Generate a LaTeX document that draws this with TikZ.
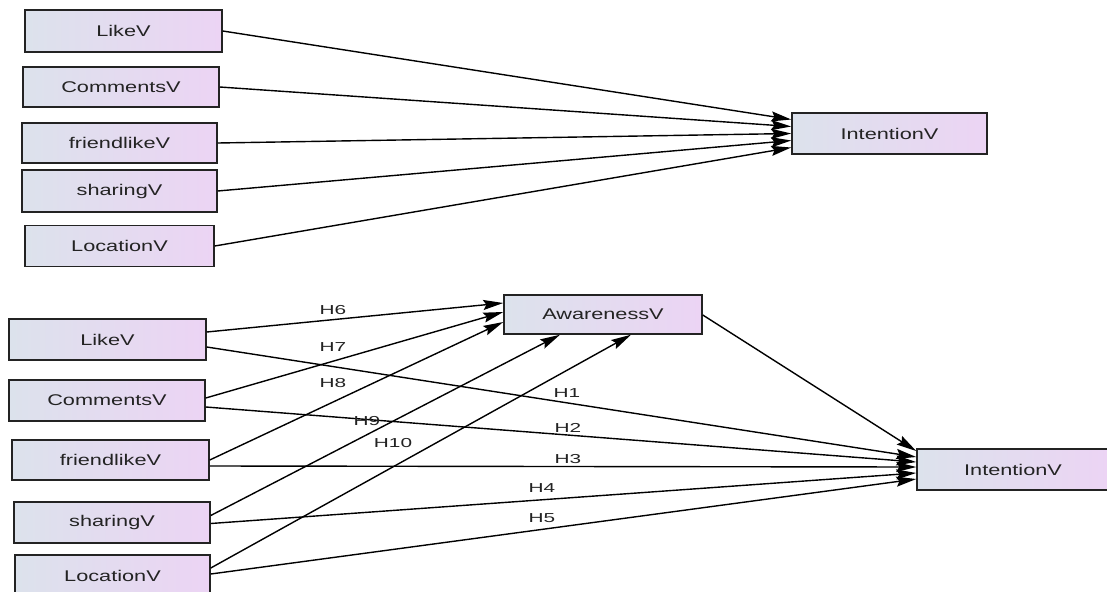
\documentclass[tikz,border=0pt]{standalone}
\usepackage{fontspec}
\setmainfont{Liberation Sans}
\newfontfamily\boxfont[FakeStretch=1.4]{Liberation Sans}
\newfontfamily\hypfont[FakeStretch=1.6]{Liberation Sans}
\usetikzlibrary{arrows.meta}
\definecolor{boxleft}{RGB}{220,226,236}
\definecolor{boxright}{RGB}{236,212,244}
\definecolor{inkgray}{RGB}{35,35,35}
\begin{document}
\begin{tikzpicture}[x=1pt,y=-1pt,
  var/.style={draw=inkgray, line width=1.5pt, left color=boxleft, right color=boxright,
    minimum height=41pt, inner sep=0pt, text=inkgray,
    font=\boxfont\fontsize{15.5}{17}\selectfont},
  link/.style={line width=1.4pt, draw=black,
    -{Stealth[length=20pt,width=10pt,inset=3pt]}},
  hyp/.style={font=\hypfont\fontsize{13}{14}\selectfont, text=inkgray, inner sep=1pt}]
\useasboundingbox[fill=white] (0,0) rectangle (1107,591);

% ---------- direct-effect model ----------
\node[var, minimum width=197pt, minimum height=42pt] (tLike)   at (123.5,31)  {LikeV};
\node[var, minimum width=196pt, minimum height=40pt] (tComm)   at (121,87)    {CommentsV};
\node[var, minimum width=195pt, minimum height=40pt] (tFriend) at (119.5,143) {friendlikeV};
\node[var, minimum width=195pt, minimum height=42pt] (tShare)  at (119.5,191) {sharingV};
\node[var, minimum width=189pt]                      (tLoc)    at (119.5,246) {LocationV};
\node[var, minimum width=195pt]                      (tInt)    at (889.5,133.5) {IntentionV};

\draw[link] (tLike.east)   -- ([yshift=14pt]tInt.west);
\draw[link] (tComm.east)   -- ([yshift=7pt]tInt.west);
\draw[link] (tFriend.east) -- ([yshift=0pt]tInt.west);
\draw[link] (tShare.east)  -- ([yshift=-7pt]tInt.west);
\draw[link] (tLoc.east)    -- ([yshift=-14pt]tInt.west);

% ---------- mediated model ----------
\node[var, minimum width=197pt] (bLike)   at (107.5,339.5) {LikeV};
\node[var, minimum width=196pt] (bComm)   at (107,400.5)   {CommentsV};
\node[var, minimum width=197pt, minimum height=40pt] (bFriend) at (110.5,460) {friendlikeV};
\node[var, minimum width=196pt] (bShare)  at (112,522.5)   {sharingV};
\node[var, minimum width=195pt, minimum height=42pt] (bLoc) at (112.5,576) {LocationV};
\node[var, minimum width=198pt, minimum height=39pt] (bAw)  at (603,314.5) {AwarenessV};
\node[var, minimum width=192pt] (bInt)    at (1013,469.5)  {IntentionV};

% paths into the mediator
\draw[link] ([yshift=7.5pt]bLike.east)   -- ([yshift=11.5pt]bAw.west);
\draw[link] ([yshift=2.5pt]bComm.east)   -- ([yshift=2.5pt]bAw.west);
\draw[link] ([yshift=0pt]bFriend.east)   -- ([yshift=-7.5pt]bAw.west);
\draw[link] ([yshift=7pt]bShare.east)    -- ([xshift=-43pt]bAw.south);
\draw[link] ([yshift=8pt]bLoc.east)      -- ([xshift=28pt]bAw.south);

% direct paths to intention
\draw[link] ([yshift=-7.5pt]bLike.east)  -- ([yshift=12.5pt]bInt.west);
\draw[link] ([yshift=-6.5pt]bComm.east)  -- ([yshift=7.5pt]bInt.west);
\draw[link] ([yshift=-6pt]bFriend.east)  -- ([yshift=2.5pt]bInt.west);
\draw[link] ([yshift=-1pt]bShare.east)   -- ([yshift=-3.5pt]bInt.west);
\draw[link] ([yshift=2pt]bLoc.east)      -- ([yshift=-9.5pt]bInt.west);

% mediator to intention
\draw[link] ([yshift=-0.5pt]bAw.east) -- ([yshift=18.5pt]bInt.west);

% hypothesis labels
\node[hyp] (h6)  at (333,310) {H6};
\node[hyp] (h7)  at (333,347) {H7};
\node[hyp] (h8)  at (333,383) {H8};
\node[hyp] (h9)  at (367,421) {H9};
\node[hyp] (h10) at (393,443) {H10};
\node[hyp] (h1)  at (567,393) {H1};
\node[hyp] (h2)  at (568,428) {H2};
\node[hyp] (h3)  at (568,459) {H3};
\node[hyp] (h4)  at (542,488) {H4};
\node[hyp] (h5)  at (542,518) {H5};
\end{tikzpicture}
\end{document}
